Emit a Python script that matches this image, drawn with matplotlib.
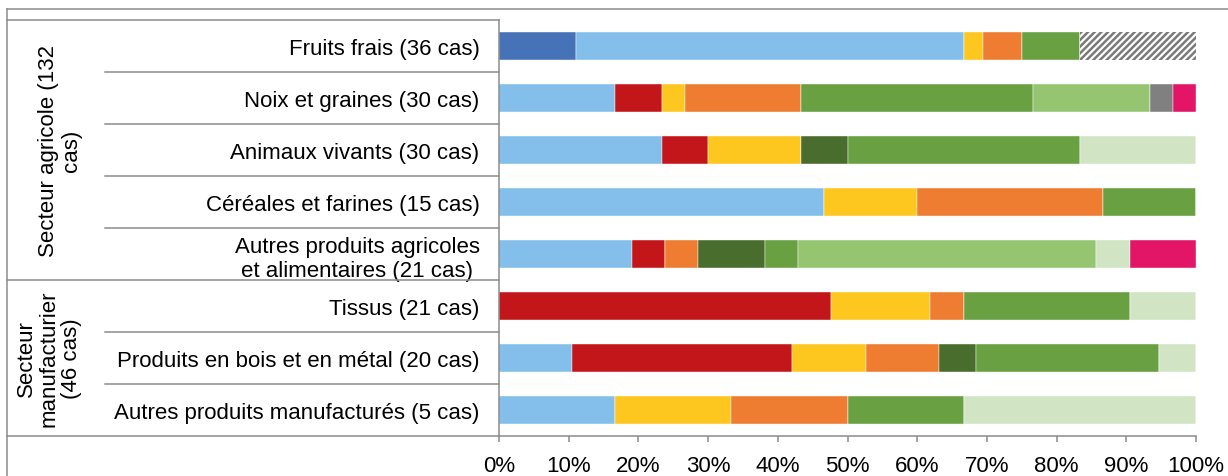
import matplotlib.pyplot as plt
import numpy as np
from matplotlib.lines import Line2D
from matplotlib.transforms import blended_transform_factory

plt.rcParams['font.family'] = ['Liberation Sans', 'DejaVu Sans']
plt.rcParams['hatch.linewidth'] = 1.8

# produits (de haut en bas)
produits = [
    "Fruits frais (36 cas)",
    "Noix et graines (30 cas)",
    "Animaux vivants (30 cas)",
    "Céréales et farines (15 cas)",
    "Autres produits agricoles\net alimentaires (21 cas)",
    "Tissus (21 cas)",
    "Produits en bois et en métal (20 cas)",
    "Autres produits manufacturés (5 cas)",
]

# nombre de cas par catégorie (série), dans l'ordre des produits
bleu_fonce  = [4, 0, 0, 0, 0, 0, 0, 0]
bleu_clair  = [20, 5, 7, 7, 4, 0, 2, 1]
rouge       = [0, 2, 2, 0, 1, 10, 6, 0]
jaune       = [1, 1, 4, 2, 0, 3, 2, 1]
orange      = [2, 5, 0, 4, 1, 1, 2, 1]
vert_fonce  = [0, 0, 2, 0, 2, 0, 1, 0]
vert        = [3, 10, 10, 2, 1, 5, 5, 1]
vert_clair  = [0, 5, 0, 0, 9, 0, 0, 0]
vert_pale   = [0, 0, 5, 0, 1, 2, 1, 2]
gris        = [0, 1, 0, 0, 0, 0, 0, 0]
rose        = [0, 1, 0, 0, 2, 0, 0, 0]
hachure     = [6, 0, 0, 0, 0, 0, 0, 0]

series = [bleu_fonce, bleu_clair, rouge, jaune, orange, vert_fonce,
          vert, vert_clair, vert_pale, gris, rose, hachure]
couleurs = ['#4672B8', '#83BFEA', '#C3161A', '#FDC71F', '#EF7D31', '#486D2C',
            '#68A042', '#95C571', '#D1E4C4', '#808080', '#E31566', 'white']

groupes = ["Secteur agricole (132\ncas)", "Secteur\nmanufacturier\n(46 cas)"]

W, H = 1228, 477
fs = 16
fig = plt.figure(figsize=(W / 100, H / 100), dpi=100)

def fx(px):
    return px / W

def fy(py):
    return 1 - py / H

ax = fig.add_axes([fx(499), fy(437), fx(1196) - fx(499), (437 - 21) / H])

data = np.array(series, dtype=float)
pct = data / data.sum(axis=0) * 100
y = np.arange(len(produits))
left = np.zeros(len(produits))
for i, (vals, c) in enumerate(zip(pct, couleurs)):
    if i == len(series) - 1:
        ax.barh(y, vals, left=left, height=0.52, color='white',
                edgecolor='#7a7a7a', hatch='/////', linewidth=0)
    else:
        ax.barh(y, vals, left=left, height=0.52, color=c,
                edgecolor='white', linewidth=0.3)
    left += vals

ax.set_xlim(0, 100)
ax.set_ylim(len(produits) - 0.5, -0.5)
ax.set_xticks(np.arange(0, 101, 10))
ax.set_xticklabels([f"{t}%" for t in range(0, 101, 10)], fontsize=fs)
ax.set_yticks(y)
ax.set_yticklabels(produits, fontsize=fs, multialignment='center')
ax.tick_params(axis='y', length=0, pad=14)
ax.tick_params(axis='x', length=4, color='#8c8c8c', width=1.1, pad=10)

for s in ['top', 'right']:
    ax.spines[s].set_visible(False)
for s in ['left', 'bottom']:
    ax.spines[s].set_color('#8c8c8c')
    ax.spines[s].set_linewidth(1.1)

gris_ligne = '#8c8c8c'
# cadre extérieur
fig.add_artist(Line2D([fx(7), 1], [fy(10), fy(10)], color=gris_ligne, lw=1.1))
fig.add_artist(Line2D([fx(7), fx(7)], [fy(10), 0], color=gris_ligne, lw=1.1))

# lignes du tableau à gauche
tr = blended_transform_factory(fig.transFigure, ax.transData)
for yy in [-0.5, 4.5, 7.5]:
    ax.plot([fx(7), fx(499)], [yy, yy], color=gris_ligne, lw=1.1,
            transform=tr, clip_on=False)
for yy in [0.5, 1.5, 2.5, 3.5, 5.5, 6.5]:
    ax.plot([fx(105), fx(499)], [yy, yy], color=gris_ligne, lw=1.1,
            transform=tr, clip_on=False)

ax.text(fx(60), 2.0, groupes[0], transform=tr, rotation=90, ha='center',
        va='center', fontsize=fs, multialignment='center', linespacing=1.1)
ax.text(fx(49), 6.0, groupes[1], transform=tr, rotation=90, ha='center',
        va='center', fontsize=fs, multialignment='center', linespacing=1.1)

fig.savefig('out.png', dpi=100)
